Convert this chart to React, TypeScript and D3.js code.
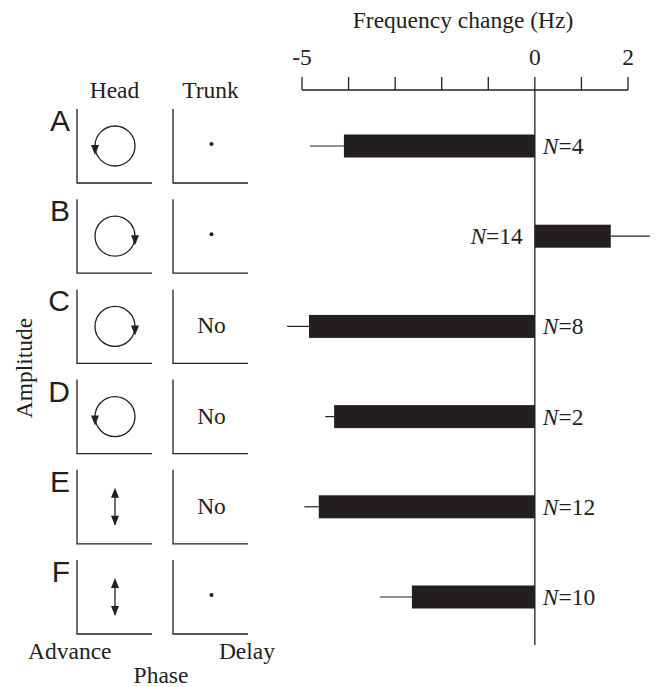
import React, { useRef, useEffect } from 'react';
import * as d3 from 'd3';

// rows of the figure
const rows = ["A", "B", "C", "D", "E", "F"];
// mean frequency change (Hz) and the error bar length
const means = [-4.1, 1.63, -4.85, -4.31, -4.64, -2.64];
const errors = [0.73, 0.84, 0.47, 0.19, 0.31, 0.69];
const nValues = [4, 14, 8, 2, 12, 10];
// head motion in the phase/amplitude panels, and trunk result
const headMotion = ["ccw", "cw", "cw", "ccw", "vertical", "vertical"];
const trunkMotion = ["dot", "dot", "No", "No", "No", "dot"];
const tickValues = [-5, -4, -3, -2, -1, 0, 1, 2];
const tickLabels = ["-5", "", "", "", "", "0", "", "2"];

const serif = "'Liberation Serif', 'Times New Roman', serif";
const sans = "'Liberation Sans', Arial, sans-serif";
const fs = 23.5;

const App = () => {
    const svgRef = useRef<SVGSVGElement>(null);

    useEffect(() => {
        const svg = d3.select(svgRef.current);
        svg.selectAll("*").remove();

        const x = d3.scaleLinear().domain([-5, 2]).range([302, 628]);
        const y = d3.scalePoint<string>().domain(rows).range([146, 597]);
        const axisY = 90;
        const ink = "#231f20";

        // title
        svg.append("text")
            .attr("x", 463).attr("y", 28)
            .attr("text-anchor", "middle")
            .attr("font-family", serif).attr("font-size", fs)
            .attr("fill", ink)
            .text("Frequency change (Hz)");

        // top axis
        svg.append("line")
            .attr("x1", x(-5)).attr("x2", x(2))
            .attr("y1", axisY).attr("y2", axisY)
            .attr("stroke", ink).attr("stroke-width", 1.3);
        svg.selectAll(".tick")
            .data(tickValues)
            .join("line")
            .attr("class", "tick")
            .attr("x1", d => x(d)).attr("x2", d => x(d))
            .attr("y1", axisY - 13).attr("y2", axisY)
            .attr("stroke", ink).attr("stroke-width", 1.3);
        svg.selectAll(".tick-label")
            .data(tickValues)
            .join("text")
            .attr("class", "tick-label")
            .attr("x", d => x(d)).attr("y", 65)
            .attr("text-anchor", "middle")
            .attr("font-family", serif).attr("font-size", fs)
            .attr("fill", ink)
            .text((d, i) => tickLabels[i]);

        // zero line
        svg.append("line")
            .attr("x1", x(0)).attr("x2", x(0))
            .attr("y1", axisY).attr("y2", 645)
            .attr("stroke", ink).attr("stroke-width", 1.3);

        const barH = 23;
        const data = rows.map((r, i) => ({ r, m: means[i], e: errors[i], n: nValues[i], head: headMotion[i], trunk: trunkMotion[i] }));

        // error bars
        svg.selectAll(".err")
            .data(data)
            .join("line")
            .attr("class", "err")
            .attr("x1", d => x(d.m))
            .attr("x2", d => x(d.m + Math.sign(d.m) * d.e))
            .attr("y1", d => y(d.r)!).attr("y2", d => y(d.r)!)
            .attr("stroke", ink).attr("stroke-width", 1.2);

        // bars
        svg.selectAll(".bar")
            .data(data)
            .join("rect")
            .attr("class", "bar")
            .attr("x", d => Math.min(x(0), x(d.m)))
            .attr("width", d => Math.abs(x(d.m) - x(0)))
            .attr("y", d => y(d.r)! - barH / 2)
            .attr("height", barH)
            .attr("fill", ink);

        // N labels
        const nLabel = svg.selectAll(".n-label")
            .data(data)
            .join("text")
            .attr("class", "n-label")
            .attr("x", d => d.m < 0 ? x(0) + 8 : x(0) - 12)
            .attr("y", d => y(d.r)! + 8)
            .attr("text-anchor", d => d.m < 0 ? "start" : "end")
            .attr("font-family", serif).attr("font-size", fs)
            .attr("fill", ink);
        nLabel.append("tspan").attr("font-style", "italic").text("N");
        nLabel.append("tspan").text(d => `=${d.n}`);

        // left panels
        const headX0 = 77, headX1 = 152, trunkX0 = 173, trunkX1 = 248, half = 37;

        svg.append("text")
            .attr("x", (headX0 + headX1) / 2).attr("y", 98)
            .attr("text-anchor", "middle")
            .attr("font-family", serif).attr("font-size", fs).attr("fill", ink)
            .text("Head");
        svg.append("text")
            .attr("x", (trunkX0 + trunkX1) / 2).attr("y", 98)
            .attr("text-anchor", "middle")
            .attr("font-family", serif).attr("font-size", fs).attr("fill", ink)
            .text("Trunk");

        const row = svg.selectAll(".row")
            .data(data)
            .join("g")
            .attr("class", "row")
            .attr("transform", d => `translate(0,${y(d.r)})`);

        row.append("text")
            .attr("x", 70).attr("y", -15)
            .attr("text-anchor", "end")
            .attr("font-family", sans).attr("font-size", 30).attr("fill", ink)
            .text(d => d.r);

        [[headX0, headX1], [trunkX0, trunkX1]].forEach(([a, b]) => {
            row.append("path")
                .attr("d", `M${a},${-half}V${half}H${b}`)
                .attr("fill", "none")
                .attr("stroke", ink).attr("stroke-width", 1.3);
        });

        const hc = (headX0 + headX1) / 2 + 0.5;
        const tc = (trunkX0 + trunkX1) / 2 + 1;

        // head: circular motion with direction arrow
        row.filter(d => d.head !== "vertical").append("circle")
            .attr("cx", hc).attr("cy", 0).attr("r", 20)
            .attr("fill", "none").attr("stroke", ink).attr("stroke-width", 1.3);
        row.filter(d => d.head !== "vertical").append("path")
            .attr("d", d => {
                const ax = d.head === "ccw" ? hc - 20 : hc + 20;
                return `M${ax - 4},-1L${ax + 4},-1L${ax},9Z`;
            })
            .attr("fill", ink);

        // head: vertical double arrow
        const vert = row.filter(d => d.head === "vertical");
        vert.append("line")
            .attr("x1", hc).attr("x2", hc).attr("y1", -14).attr("y2", 18)
            .attr("stroke", ink).attr("stroke-width", 1.3);
        vert.append("path")
            .attr("d", `M${hc},-19L${hc - 4},-9L${hc + 4},-9Z M${hc},19L${hc - 4},9L${hc + 4},9Z`)
            .attr("fill", ink);

        // trunk
        row.filter(d => d.trunk === "dot").append("circle")
            .attr("cx", tc).attr("cy", -2).attr("r", 2)
            .attr("fill", ink);
        row.filter(d => d.trunk === "No").append("text")
            .attr("x", tc).attr("y", 7)
            .attr("text-anchor", "middle")
            .attr("font-family", serif).attr("font-size", fs).attr("fill", ink)
            .text("No");

        // axis titles of the panels
        svg.append("text")
            .attr("transform", "translate(32,368) rotate(-90)")
            .attr("text-anchor", "middle")
            .attr("font-family", serif).attr("font-size", fs).attr("fill", ink)
            .text("Amplitude");
        svg.append("text")
            .attr("x", 28).attr("y", 659)
            .attr("font-family", serif).attr("font-size", fs).attr("fill", ink)
            .text("Advance");
        svg.append("text")
            .attr("x", 275).attr("y", 659)
            .attr("text-anchor", "end")
            .attr("font-family", serif).attr("font-size", fs).attr("fill", ink)
            .text("Delay");
        svg.append("text")
            .attr("x", 161).attr("y", 683)
            .attr("text-anchor", "middle")
            .attr("font-family", serif).attr("font-size", fs).attr("fill", ink)
            .text("Phase");
    }, []);

    return <svg ref={svgRef} width={656} height={687} style={{ position: "absolute", left: 0, top: 0, background: "#fff" }}></svg>;
};

export default App;
